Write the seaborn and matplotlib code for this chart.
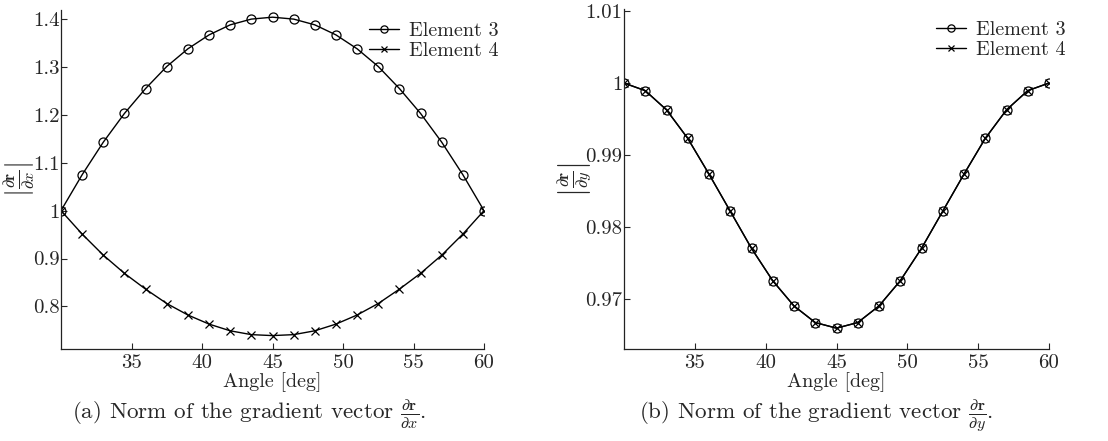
import numpy as np
import pandas as pd
import matplotlib
matplotlib.use("Agg")
import matplotlib.pyplot as plt
import seaborn as sns

angles = [30, 31.5, 33, 34.5, 36, 37.5, 39, 40.5, 42, 43.5, 45,
          46.5, 48, 49.5, 51, 52.5, 54, 55.5, 57, 58.5, 60]
dx_elem3 = [1.000, 1.075, 1.143, 1.203, 1.255, 1.301, 1.338, 1.367, 1.388, 1.400, 1.404,
            1.400, 1.388, 1.367, 1.338, 1.301, 1.255, 1.203, 1.143, 1.075, 1.000]
dx_elem4 = [1.000, 0.951, 0.907, 0.869, 0.836, 0.806, 0.782, 0.763, 0.749, 0.741, 0.739,
            0.741, 0.749, 0.763, 0.782, 0.806, 0.836, 0.869, 0.907, 0.951, 1.000]
dy_elem3 = [1.00000, 0.99894, 0.99627, 0.99230, 0.98733, 0.98217, 0.97700, 0.97249, 0.96899, 0.96668, 0.96590,
            0.96668, 0.96899, 0.97249, 0.97700, 0.98217, 0.98733, 0.99230, 0.99627, 0.99894, 1.00000]
dy_elem4 = list(dy_elem3)

x_ticks = [35, 40, 45, 50, 55, 60]
x_ticklabels = ["35", "40", "45", "50", "55", "60"]
left_yticks = [0.8, 0.9, 1.0, 1.1, 1.2, 1.3, 1.4]
left_yticklabels = ["0.8", "0.9", "1", "1.1", "1.2", "1.3", "1.4"]
right_yticks = [0.97, 0.98, 0.99, 1.0, 1.01]
right_yticklabels = ["0.97", "0.98", "0.99", "1", "1.01"]

TICK_FS = 15
LEG_FS = 14.5
XLAB_FS = 14.5
CAP_FS = 16.6
YLAB_FS = 17

sns.set_style("ticks")
plt.rcParams["font.family"] = ["cmr10", "DejaVu Serif"]
plt.rcParams["mathtext.fontset"] = "cm"
plt.rcParams["axes.unicode_minus"] = False
plt.rcParams["font.size"] = 15

fig = plt.figure(figsize=(11.08, 4.41), dpi=100)
axL = fig.add_axes([61/1108, 1-349/441, 423/1108, 339/441])
axR = fig.add_axes([624/1108, 1-349/441, 425/1108, 340/441])

dfL = pd.DataFrame({"angle": angles, "e3": dx_elem3, "e4": dx_elem4})
dfR = pd.DataFrame({"angle": angles, "e3": dy_elem3, "e4": dy_elem4})

for ax, df, bx in [(axL, dfL, 1.068), (axR, dfR, 1.072)]:
    sns.lineplot(data=df, x="angle", y="e3", ax=ax, color="k", lw=1.0,
                 marker="o", markersize=6.5, markerfacecolor="none",
                 markeredgecolor="k", markeredgewidth=0.9, label="Element 3")
    sns.lineplot(data=df, x="angle", y="e4", ax=ax, color="k", lw=1.0,
                 marker="x", markersize=6, markeredgecolor="k",
                 markeredgewidth=0.9, label="Element 4")
    ax.set_xlim(30, 60)
    ax.set_xticks(x_ticks)
    ax.set_xticklabels(x_ticklabels)
    for s in ["top", "right"]:
        ax.spines[s].set_visible(False)
    for s in ["left", "bottom"]:
        ax.spines[s].set_linewidth(0.9)
        ax.spines[s].set_color("#222222")
    ax.tick_params(direction="in", length=4, width=0.8, labelsize=TICK_FS)
    ax.tick_params(axis="y", pad=1)
    ax.tick_params(axis="x", pad=4)
    ax.set_xlabel("Angle [deg]", fontsize=XLAB_FS, labelpad=0)
    ax.legend(loc="upper right", bbox_to_anchor=(bx, 1.006), frameon=False,
              handlelength=1.5, labelspacing=0.1, handletextpad=0.5,
              fontsize=LEG_FS, borderaxespad=0.3, markerscale=0.8)
    ax.grid(False)

axL.set_ylim(0.711, 1.419)
axL.set_yticks(left_yticks)
axL.set_yticklabels(left_yticklabels)
axL.set_ylabel(r"$\left|\frac{\partial \mathbf{r}}{\partial x}\right|$", fontsize=YLAB_FS)
axL.yaxis.set_label_coords(-0.057, 0.5)

axR.set_ylim(0.9630, 1.0103)
axR.set_yticks(right_yticks)
axR.set_yticklabels(right_yticklabels)
axR.set_ylabel(r"$\left|\frac{\partial \mathbf{r}}{\partial y}\right|$", fontsize=YLAB_FS)
axR.yaxis.set_label_coords(-0.068, 0.5)

fig.text(249/1108, 1-419/441, r"(a) Norm of the gradient vector $\frac{\partial \mathbf{r}}{\partial x}$.",
         ha="center", va="baseline", fontsize=CAP_FS)
fig.text(816/1108, 1-419/441, r"(b) Norm of the gradient vector $\frac{\partial \mathbf{r}}{\partial y}$.",
         ha="center", va="baseline", fontsize=CAP_FS)

fig.savefig("out.png", dpi=100)
